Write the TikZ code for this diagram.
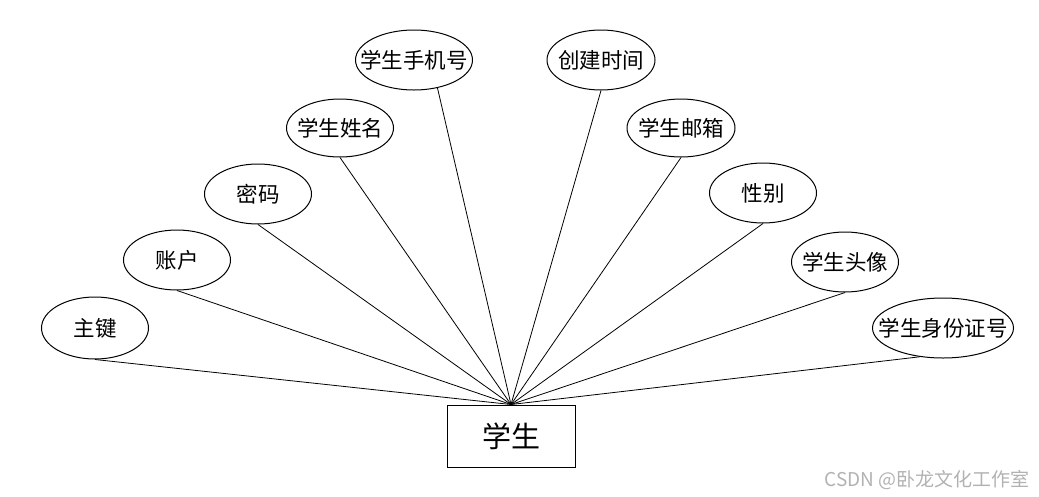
\documentclass[tikz,border=0pt]{standalone}
\usepackage{fontspec}
\setmainfont{Noto Sans CJK SC}
\usetikzlibrary{shapes.geometric}
\begin{document}
\begin{tikzpicture}[
  x=1pt, y=-1pt,
  every node/.style={font=\fontsize{21.5}{25}\selectfont},
  attr/.style={draw, ellipse, line width=1pt, minimum width=107pt, minimum height=60pt,
               inner xsep=-25pt, inner ysep=0pt},
  entity/.style={draw, line width=1pt, minimum width=128pt, minimum height=62pt,
                 font=\fontsize{29}{34}\selectfont},
  link/.style={line width=0.8pt}
]
\useasboundingbox (0,0) rectangle (1039,496);

\node[entity] (xs) at (511, 436) {学生};

\node[attr, minimum height=62pt] (zj) at (95, 328) {主键};
\node[attr] (zh) at (177, 260) {账户};
\node[attr] (mm) at (258, 194) {密码};
\node[attr, minimum height=58pt] (xm) at (340, 128) {学生姓名};
\node[attr, minimum width=117pt] (sj) at (414, 60) {学生手机号};
\node[attr, minimum width=108pt] (cj) at (601, 60) {创建时间};
\node[attr, minimum width=108pt, minimum height=58pt] (yx) at (681, 128) {学生邮箱};
\node[attr] (xb) at (763, 193) {性别};
\node[attr] (tx) at (845, 262) {学生头像};
\node[attr, minimum width=141pt] (sfz) at (943, 328) {学生身份证号};

\draw[link] (zj.south) -- (xs.north);
\draw[link] (zh.south) -- (xs.north);
\draw[link] (mm.south) -- (xs.north);
\draw[link] (xm.south) -- (xs.north);
\draw[link] (sj.-50) -- (xs.north);
\draw[link] (cj.south) -- (xs.north);
\draw[link] (yx.south) -- (xs.north);
\draw[link] (xb.south) -- (xs.north);
\draw[link] (tx.south) -- (xs.north);
\draw[link] (sfz.231) -- (xs.north);

\node[anchor=east, text=black!30, font=\fontsize{19}{22}\selectfont] (wm) at (1033, 480) {CSDN @卧龙文化工作室};
\end{tikzpicture}
\end{document}
